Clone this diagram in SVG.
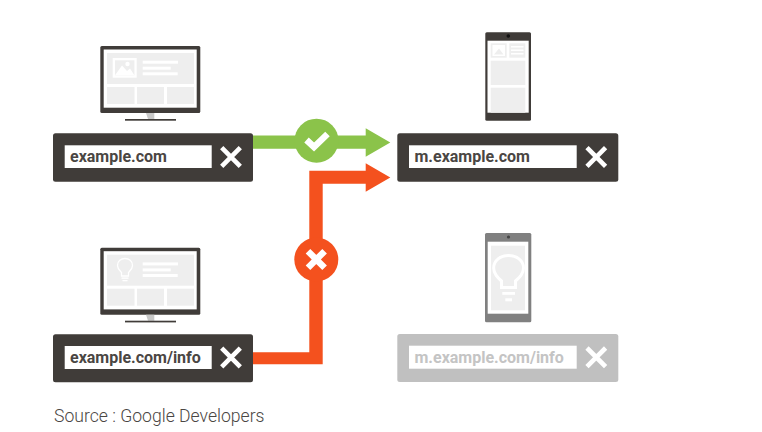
<svg xmlns="http://www.w3.org/2000/svg" xmlns:xlink="http://www.w3.org/1999/xlink" width="762" height="432" viewBox="0 0 762 432">
<style>
.bar{fill:#403c39}.barg{fill:#c0c0c0}.inp{fill:#fff}
.u{font-family:Roboto,"Liberation Sans",sans-serif;font-weight:700;font-size:16px;fill:#4a4643}
.ug{fill:#c4c4c4}
.x{stroke:#fff;stroke-width:4.6;fill:none}
.dark{fill:#403c39}.mid{fill:#808080}.p{fill:#eeeeee}.w{fill:#fff}
.src{font-family:Roboto,"Liberation Sans",sans-serif;font-weight:300;font-size:17.6px;fill:#4a4643}
</style>
<defs>
<g id="mon">
<rect x="100.3" y="46" width="100" height="67" rx="1.5" class="dark"/>
<rect x="103.7" y="49.5" width="93" height="58.2" class="w"/>
<rect x="107" y="53" width="87" height="31" class="p"/>
<rect x="107" y="87" width="27.5" height="17" class="p"/>
<rect x="137" y="87" width="27" height="17" class="p"/>
<rect x="167" y="87" width="27" height="17" class="p"/>
<rect x="142.7" y="60.7" width="35.3" height="3" class="w"/>
<rect x="142.7" y="66.7" width="28" height="3" class="w"/>
<rect x="142.7" y="72.3" width="35" height="3" class="w"/>
<path d="M146 113H154.3V119H148Z" fill="#c8c8c8"/>
<rect x="125" y="119" width="51" height="1.7" class="dark"/>
</g>
<g id="cross"><path class="x" d="M-9.3-9.3 9.3 9.3M-9.3 9.3 9.3-9.3"/></g>
</defs>
<g id="connectors">
<path d="M253 135.5H365.7V128.3L390.3 142.5 365.7 156.7V148.7H253Z" fill="#8bc34a"/>
<path d="M253 352.3H309.3V170.7H365.7V163.3L390.3 177.5 365.7 191.7V183.7H322.7V364.3H253Z" fill="#f4511e"/>
</g>
<g id="badge-ok">
<circle cx="316.5" cy="140.7" r="22" fill="#8bc34a"/>
<path d="M306.5 140 314 147 327.5 134" fill="none" stroke="#fff" stroke-width="6.5"/>
</g>
<g id="badge-no">
<circle cx="316.3" cy="259.5" r="22" fill="#f4511e"/>
<path d="M308 251.2 324.6 267.8M308 267.8 324.6 251.2" fill="none" stroke="#fff" stroke-width="6.5"/>
</g>
<g id="desktop-1">
<use xlink:href="#mon" href="#mon"/>
<rect x="112.7" y="58" width="24" height="19.7" class="w"/>
<rect x="115" y="60.3" width="19.4" height="15" class="p"/>
<path d="M115 75.3 122 65.5 127 71 130 68.5 134.4 75.3Z" class="w"/>
<circle cx="127.5" cy="64" r="2.2" class="w"/>
</g>
<g id="bar-1">
<rect x="53" y="133.3" width="200" height="48.4" rx="2.5" class="bar"/>
<rect x="64.7" y="145.3" width="147" height="22.7" class="inp"/>
<text x="70" y="162" class="u">example.com</text>
<use xlink:href="#cross" href="#cross" x="231" y="157"/>
</g>
<g id="desktop-2" >
<use xlink:href="#mon" href="#mon" y="201.7"/>
<path d="M121.5 276V272.5C119.5 270.5 117.5 269 117.5 265.5 117.5 261 121 258.5 125 258.5 129 258.5 132.500 261 132.500 265.500 132.500 269 130.500 270.500 128.500 272.500V276Z" fill="none" stroke="#fff" stroke-width="1.3"/>
<rect x="121.500" y="277.500" width="7" height="1.300" class="w"/>
<rect x="122.500" y="280" width="5" height="1.300" class="w"/>
</g>
<g id="bar-2">
<rect x="53" y="334.3" width="200" height="48" rx="2.5" class="bar"/>
<rect x="64.7" y="346" width="147" height="23" class="inp"/>
<text x="70" y="363" class="u">example.com/info</text>
<use xlink:href="#cross" href="#cross" x="231" y="357.5"/>
</g>
<g id="phone-1">
<rect x="485.3" y="32.3" width="45.7" height="88.4" rx="1.5" class="dark"/>
<rect x="487.5" y="40.7" width="41.2" height="72" class="w"/>
<rect x="490.7" y="43.3" width="16" height="14.4" class="p"/>
<rect x="509.3" y="43.3" width="16" height="14.4" class="p"/>
<rect x="490.7" y="60.7" width="34.6" height="24.3" class="p"/>
<rect x="490.7" y="87.7" width="34.6" height="25" class="p"/>
<path d="M492.5 45H505V56H492.5ZM494 54.5H503.5L499 48.5Z" fill="#fff" fill-rule="evenodd"/>
<rect x="511" y="46" width="12.5" height="1.5" class="w"/>
<rect x="511" y="49.5" width="12.5" height="1.5" class="w"/>
<rect x="511" y="53" width="12.5" height="1.5" class="w"/>
<circle cx="508.3" cy="36" r="1.8" fill="#111"/>
</g>
<g id="bar-3">
<rect x="397.3" y="133.3" width="221" height="48.4" rx="2.5" class="bar"/>
<rect x="409" y="145.3" width="167.7" height="22.7" class="inp"/>
<text x="414.5" y="162" class="u">m.example.com</text>
<use xlink:href="#cross" href="#cross" x="596.3" y="157"/>
</g>
<g id="phone-2">
<rect x="485" y="233" width="46.3" height="89.3" rx="1.5" class="mid"/>
<rect x="487.7" y="241.7" width="40.6" height="72" class="w"/>
<rect x="491" y="245.7" width="34" height="64.6" class="p"/>
<circle cx="508.5" cy="237" r="1.6" fill="#444"/>
<path d="M501.500 287.500V281C497.500 277.500 493.700 274 493.700 268 493.700 260.500 500.500 255.500 508.500 255.500 516.500 255.500 523.500 260.500 523.500 268 523.500 274 519.500 277.500 515.500 281V287.500Z" fill="none" stroke="#fff" stroke-width="3"/>
<rect x="502.300" y="292" width="12.700" height="2.800" class="w"/>
<rect x="505.300" y="298.300" width="6.700" height="3" class="w"/>
</g>
<g id="bar-4">
<rect x="397.3" y="334" width="221" height="48" rx="2.5" class="barg"/>
<rect x="409" y="345.7" width="167.7" height="23" class="inp"/>
<text x="414.5" y="363" class="u ug">m.example.com/info</text>
<use xlink:href="#cross" href="#cross" x="596.3" y="357.3"/>
</g>
<text x="54" y="422" class="src">Source : Google Developers</text>
</svg>
